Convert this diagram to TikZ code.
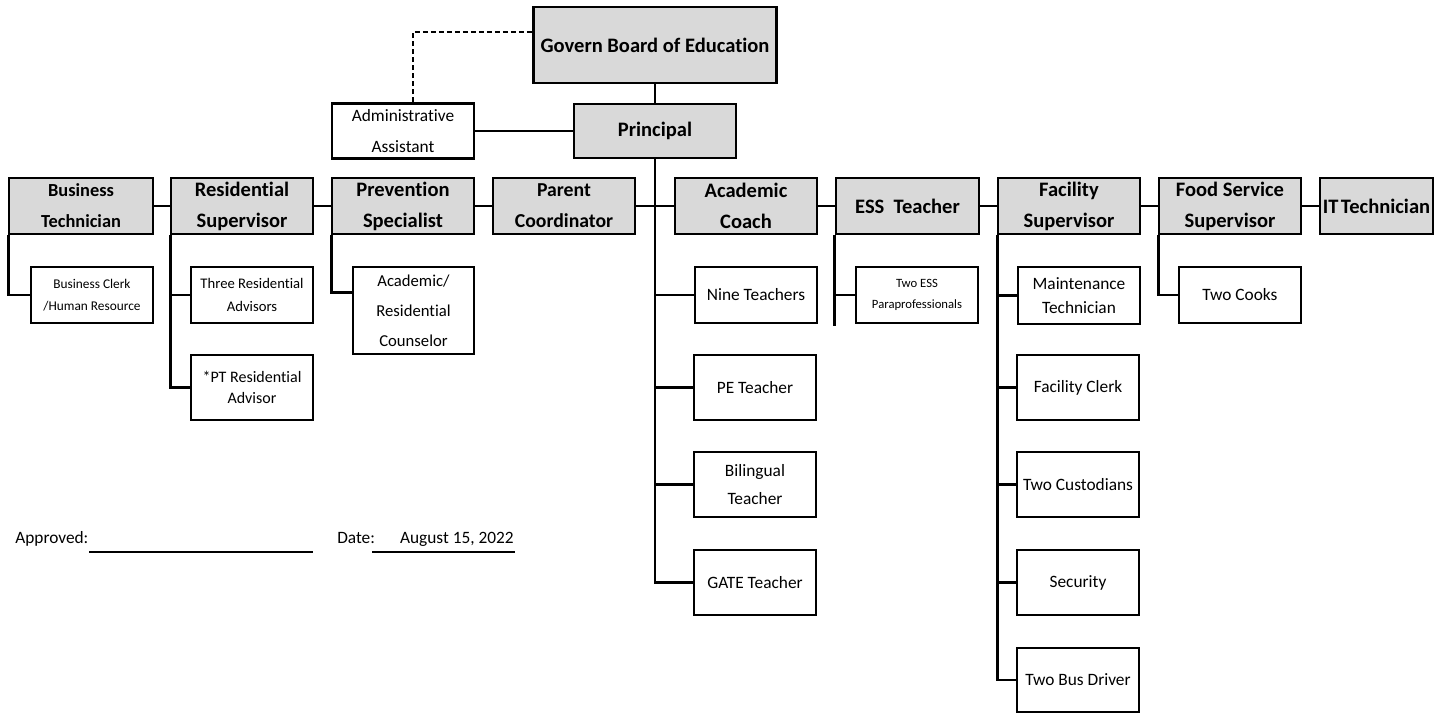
\documentclass[tikz,border=0pt]{standalone}
\usepackage{fontspec}
\setmainfont{Carlito}[Ligatures=NoCommon]
\usetikzlibrary{calc}
\definecolor{boxgray}{HTML}{D9D9D9}
\tikzset{
  sz/.style 2 args={minimum width={#1*0.75pt}, minimum height={#2*0.75pt}},
  boss/.style={draw=black, line width=2.2pt, fill=boxgray, inner sep=0pt, align=center,
    font=\bfseries\fontsize{15.4}{23.3}\selectfont},
  sub/.style={draw=black, line width=2.2pt, fill=white, inner sep=0pt, align=center,
    font=\fontsize{13}{21}\selectfont},
  conn/.style={line width=2pt},
  dconn/.style={line width=1.7pt, dash pattern=on 4pt off 2pt},
  plain/.style={inner sep=0pt, font=\fontsize{13}{16}\selectfont}
}
\begin{document}
\begin{tikzpicture}[x=0.75pt,y=-0.75pt]
\useasboundingbox (0,0) rectangle (1454,713);
% top
\node[boss, sz={243}{76}] (gb) at (655,45) {Govern Board of Education};
\node[boss, sz={162}{54}] (pr) at (655,131) {Principal};
\node[sub, sz={142}{55}, font=\fontsize{13}{23}\selectfont] (aa) at (403,131) {Administrative\\Assistant};
% row of heads
\node[boss, sz={144}{56}, font=\bfseries\fontsize{13.8}{23.3}\selectfont] (bt) at (81,206) {Business\\Technician};
\node[boss, sz={142}{56}] (rs) at (242,206) {Residential\\Supervisor};
\node[boss, sz={142}{56}] (ps) at (403,206) {Prevention\\Specialist};
\node[boss, sz={142}{56}, font=\bfseries\fontsize{14.8}{23.3}\selectfont] (pc) at (564,206) {Parent\\Coordinator};
\node[boss, sz={142}{56}] (ac) at (746,206) {Academic\\Coach};
\node[boss, sz={143}{56}] (es) at (907.5,206) {ESS~ Teacher};
\node[boss, sz={142}{56}] (fs) at (1069,206) {Facility\\Supervisor};
\node[boss, sz={142}{56}] (fo) at (1230,206) {Food Service\\Supervisor};
\node[boss, sz={113}{56}] (it) at (1376.5,206) {IT\hspace{0.12em}Technician};
% children
\node[sub, sz={122}{56}, font=\fontsize{10}{16.5}\selectfont] (bc) at (92,295) {Business Clerk\\/Human Resource};
\node[sub, sz={122}{56}, font=\fontsize{11}{17}\selectfont] (tr) at (252,295) {Three Residential\\Advisors};
\node[sub, sz={122}{65}, font=\fontsize{12}{16}\selectfont] (pt) at (252,387.5) {*PT Residential\\Advisor};
\node[sub, sz={121}{87}, font=\fontsize{12.5}{22.5}\selectfont] (cr) at (413.5,310.5) {Academic/\\Residential\\Counselor};
\node[sub, sz={122}{56}] (nt) at (756,295) {Nine Teachers};
\node[sub, sz={122}{65}] (pe) at (755,387.5) {PE Teacher};
\node[sub, sz={122}{65}] (bi) at (755,484.5) {Bilingual\\Teacher};
\node[sub, sz={122}{65}] (ga) at (755,582.5) {GATE Teacher};
\node[sub, sz={122}{56}, font=\fontsize{9.5}{16}\selectfont] (ep) at (917,295) {Two ESS\\Paraprofessionals};
\node[sub, sz={122}{57}, font=\fontsize{13}{18}\selectfont] (mt) at (1079,295.5) {Maintenance\\Technician};
\node[sub, sz={122}{65}] (fc) at (1078,387.5) {Facility Clerk};
\node[sub, sz={122}{65}] (tc) at (1078,484.5) {Two Custodians};
\node[sub, sz={122}{65}] (se) at (1078,582.5) {Security};
\node[sub, sz={122}{64}] (bd) at (1078,680) {Two Bus Driver};
\node[sub, sz={122}{56}] (ck) at (1240,295) {Two Cooks};
% connectors top
\draw[conn] (gb.south) -- (pr.north);
\draw[conn] (aa.east) -- (pr.west);
\coordinate (aatop) at ($(aa.north)+(10,0)$);
\coordinate (gbl) at ($(gb.west)+(0,-13)$);
\draw[dconn] (aatop) |- (gbl);
% row connectors
\draw[conn] (bt.east) -- (rs.west);
\draw[conn] (rs.east) -- (ps.west);
\draw[conn] (ps.east) -- (pc.west);
\draw[conn] (pc.east) -- (ac.west);
\draw[conn] (ac.east) -- (es.west);
\draw[conn] (es.east) -- (fs.west);
\draw[conn] (fs.east) -- (fo.west);
\draw[conn] (fo.east) -- (it.west);
% principal spine
\draw[conn] (pr.south) -- (pr.south |- ga.west) -- (ga.west);
\draw[conn] (pr.south |- nt.west) -- (nt.west);
\draw[conn] (pr.south |- pe.west) -- (pe.west);
\draw[conn] (pr.south |- bi.west) -- (bi.west);
% business
\coordinate (btx) at ($(bt.south west)+(1,0)$);
\draw[conn] (btx) |- (bc.west);
% residential
\coordinate (rsx) at ($(rs.south west)+(1,0)$);
\draw[conn] (rsx) |- (pt.west);
\draw[conn] (rsx |- tr.west) -- (tr.west);
% prevention
\coordinate (psx) at ($(ps.south west)+(1,0)$);
\coordinate (crx) at ($(cr.north west)+(0,27)$);
\draw[conn] (psx) |- (crx);
% ESS
\coordinate (esx) at ($(es.south west)+(0,0)$);
\coordinate (esend) at ($(es.south west)+(0,91)$);
\draw[conn] (esx) -- (esend);
\draw[conn] (esx |- ep.west) -- (ep.west);
% facility
\coordinate (fsx) at ($(fs.south west)+(1,0)$);
\draw[conn] (fsx) |- (bd.west);
\draw[conn] (fsx |- mt.west) -- (mt.west);
\draw[conn] (fsx |- fc.west) -- (fc.west);
\draw[conn] (fsx |- tc.west) -- (tc.west);
\draw[conn] (fsx |- se.west) -- (se.west);
% food
\coordinate (fox) at ($(fo.south west)+(1,0)$);
\draw[conn] (fox) |- (ck.west);
% approval
\node[plain, anchor=base west] (ap) at (15,543) {Approved:};
\coordinate (l1a) at (89,552);
\coordinate (l1b) at (313,552);
\draw[line width=2.2pt] (l1a) -- (l1b);
\node[plain, anchor=base west] (dt) at (337,543) {Date:};
\node[plain, anchor=base east] (dv) at (514,543) {August 15, 2022};
\coordinate (l2a) at (372,552);
\coordinate (l2b) at (515,552);
\draw[line width=2.2pt] (l2a) -- (l2b);
\end{tikzpicture}
\end{document}
